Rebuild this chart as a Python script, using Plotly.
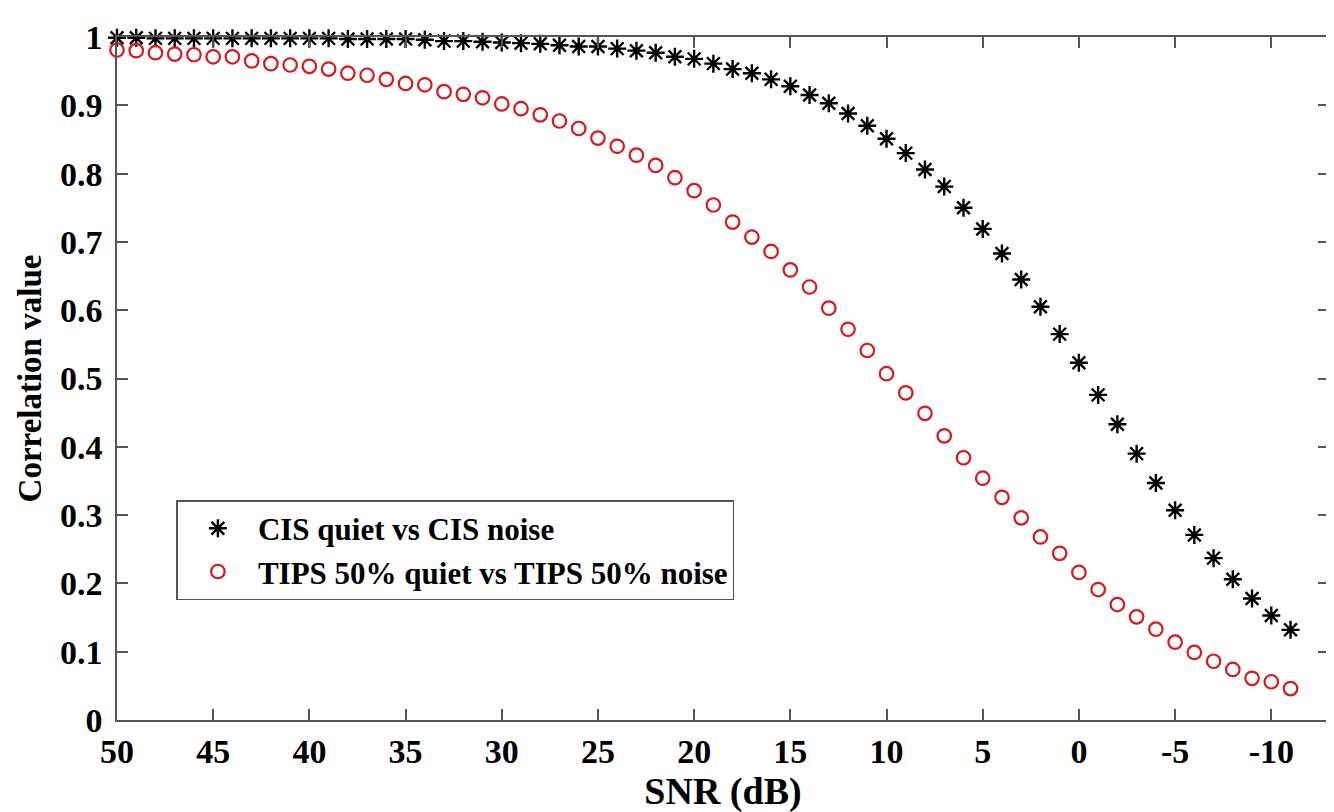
import plotly.graph_objects as go

snr_db = [50, 49, 48, 47, 46, 45, 44, 43, 42, 41, 40, 39, 38, 37, 36, 35, 34, 33, 32, 31,
          30, 29, 28, 27, 26, 25, 24, 23, 22, 21, 20, 19, 18, 17, 16, 15, 14, 13, 12, 11,
          10, 9, 8, 7, 6, 5, 4, 3, 2, 1, 0, -1, -2, -3, -4, -5, -6, -7, -8, -9, -10, -11]

cis_corr = [0.999, 0.999, 0.998, 0.998, 0.998, 0.998, 0.998, 0.998, 0.998, 0.998,
            0.998, 0.998, 0.997, 0.997, 0.997, 0.997, 0.996, 0.994, 0.994, 0.993,
            0.992, 0.991, 0.990, 0.988, 0.986, 0.986, 0.983, 0.980, 0.977, 0.971,
            0.968, 0.961, 0.953, 0.947, 0.938, 0.928, 0.915, 0.903, 0.888, 0.870,
            0.851, 0.830, 0.806, 0.781, 0.750, 0.719, 0.683, 0.645, 0.605, 0.565,
            0.523, 0.476, 0.433, 0.390, 0.347, 0.307, 0.271, 0.237, 0.206, 0.178,
            0.153, 0.132]

tips_corr = [0.981, 0.980, 0.977, 0.975, 0.974, 0.971, 0.971, 0.965, 0.961, 0.959,
             0.957, 0.953, 0.947, 0.944, 0.938, 0.932, 0.930, 0.920, 0.916, 0.911,
             0.902, 0.895, 0.886, 0.877, 0.866, 0.852, 0.840, 0.827, 0.812, 0.794,
             0.775, 0.754, 0.729, 0.707, 0.686, 0.659, 0.634, 0.603, 0.572, 0.541,
             0.507, 0.479, 0.449, 0.416, 0.384, 0.354, 0.326, 0.296, 0.268, 0.244,
             0.216, 0.191, 0.169, 0.151, 0.133, 0.114, 0.099, 0.086, 0.074, 0.061,
             0.056, 0.046]

x_ticks = [50, 45, 40, 35, 30, 25, 20, 15, 10, 5, 0, -5, -10]
x_tick_labels = ["50", "45", "40", "35", "30", "25", "20", "15", "10", "5", "0", "-5", "-10"]
y_ticks = [0, 0.1, 0.2, 0.3, 0.4, 0.5, 0.6, 0.7, 0.8, 0.9, 1]
y_tick_labels = ["0", "0.1", "0.2", "0.3", "0.4", "0.5", "0.6", "0.7", "0.8", "0.9", "1"]

FONT = "Liberation Serif, Times New Roman, serif"
AXIS_COLOR = "#555555"

fig = go.Figure()
fig.add_trace(go.Scatter(
    x=snr_db, y=cis_corr, mode="markers", name="CIS quiet vs CIS noise",
    marker=dict(symbol="asterisk-open", size=15, color="black",
                line=dict(color="black", width=2.4)),
    cliponaxis=False,
))
fig.add_trace(go.Scatter(
    x=snr_db, y=tips_corr, mode="markers", name="TIPS 50% quiet vs TIPS 50% noise",
    marker=dict(symbol="circle-open", size=13.5, color="#d7191c",
                line=dict(color="#d7191c", width=2.2)),
    cliponaxis=False,
))

fig.update_layout(
    width=1334, height=812,
    margin=dict(l=109, r=11, t=22, b=100),
    paper_bgcolor="white", plot_bgcolor="white",
    font=dict(family=FONT, size=34, color="black", weight="bold"),
    showlegend=True,
    legend=dict(
        x=0.049, y=0.322, xanchor="left", yanchor="top",
        bgcolor="white", bordercolor=AXIS_COLOR, borderwidth=1.5,
        font=dict(family=FONT, size=31, color="black", weight="bold"),
        itemwidth=70, tracegroupgap=0,
    ),
    xaxis=dict(
        range=[50, -13], tickmode="array", tickvals=x_ticks, ticktext=x_tick_labels,
        ticks="inside", ticklen=11, tickwidth=1.5, tickcolor=AXIS_COLOR,
        showline=True, linecolor=AXIS_COLOR, linewidth=1.5, mirror="ticks",
        showgrid=False, zeroline=False, ticklabelstandoff=0,
        tickfont=dict(family=FONT, size=34, weight="bold"),
        title=dict(text="SNR (dB)", font=dict(family=FONT, size=38, weight="bold"), standoff=2),
    ),
    yaxis=dict(
        range=[0, 1], tickmode="array", tickvals=y_ticks, ticktext=y_tick_labels,
        ticks="inside", ticklen=11, tickwidth=1.5, tickcolor=AXIS_COLOR,
        showline=True, linecolor=AXIS_COLOR, linewidth=1.5, mirror="ticks",
        showgrid=False, zeroline=False, ticklabelstandoff=6,
        tickfont=dict(family=FONT, size=34, weight="bold"),
        title=dict(text="Correlation value", font=dict(family=FONT, size=33, weight="bold"), standoff=8),
    ),
)

fig.write_html("out.html")
